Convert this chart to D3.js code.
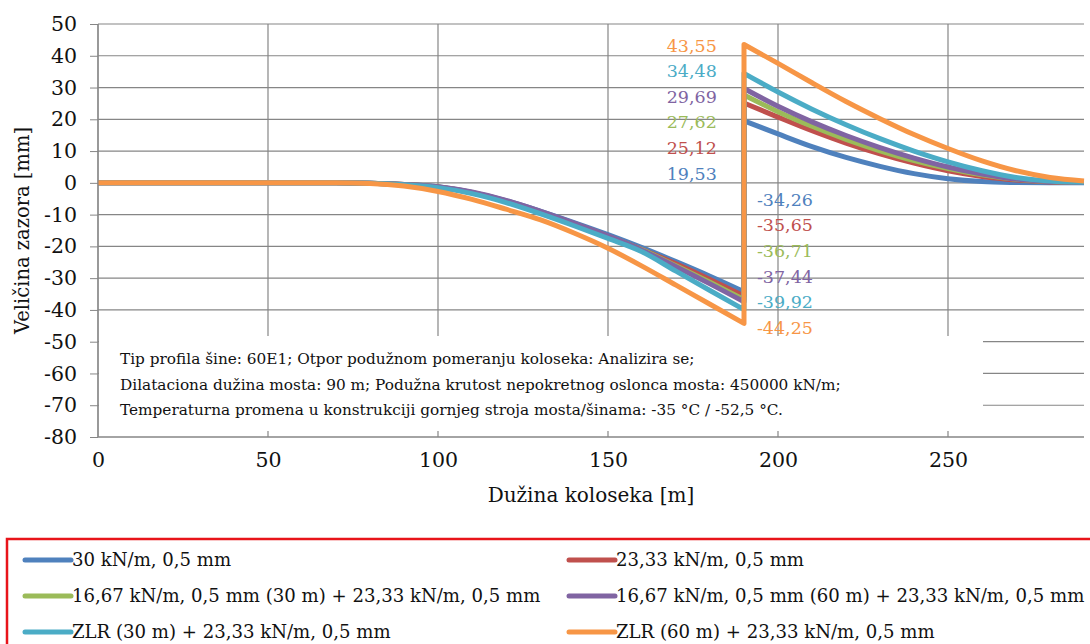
<!DOCTYPE html>
<html>
<head>
<meta charset="utf-8">
<script src="https://cdnjs.cloudflare.com/ajax/libs/d3/7.8.5/d3.min.js"></script>
<style>
  body { margin: 0; background: #fff; }
  svg, svg text { font-family: "DejaVu Serif", serif !important; }
</style>
</head>
<body>
<div id="chart"></div>
<script>
// x positions of the read-off points (m)
const xLeft = [0, 50, 70, 80, 90, 100, 110, 120, 130, 140, 150, 160, 170, 180, 190]
const xRight = [190, 200, 210, 220, 230, 240, 250, 260, 270, 280, 290]

// gap size (mm), left of the bridge end and right of it
const blueLeft = [0, 0, 0, -0.1, -0.5, -1.2, -3.0, -5.6, -8.9, -12.5, -16.3, -20.4, -24.8, -29.4, -34.26]
const redLeft = [0, 0, 0, -0.1, -0.5, -1.3, -3.1, -5.8, -9.2, -12.9, -16.8, -21.0, -25.5, -30.4, -35.65]
const greenLeft = [0, 0, 0, -0.1, -0.5, -1.3, -3.1, -5.8, -9.2, -12.9, -16.8, -21.1, -26.1, -31.3, -36.71]
const purpleLeft = [0, 0, 0, -0.1, -0.5, -1.2, -2.9, -5.5, -8.9, -12.7, -16.7, -21.2, -26.4, -31.8, -37.44]
const aquaLeft = [0, 0, 0, -0.1, -0.6, -1.5, -3.4, -6.2, -9.7, -13.5, -17.5, -21.7, -27.8, -33.9, -39.92]
const orangeLeft = [0, 0, 0, -0.2, -1.0, -2.7, -5.2, -8.3, -11.6, -15.8, -20.6, -26.2, -32.2, -38.2, -44.25]

const blueRight = [19.53, 15.4, 11.4, 8.0, 5.2, 2.9, 1.3, 0.4, 0.1, 0, 0]
const redRight = [25.12, 20.7, 16.4, 12.5, 9.1, 6.2, 3.8, 2.0, 0.9, 0.3, 0.1]
const greenRight = [27.62, 22.4, 17.8, 13.7, 10.1, 7.0, 4.5, 2.5, 1.1, 0.4, 0.1]
const purpleRight = [29.69, 24.1, 19.2, 14.9, 11.1, 7.8, 5.0, 2.8, 1.2, 0.4, 0.1]
const aquaRight = [34.48, 28.6, 23.2, 18.3, 13.9, 10.0, 6.6, 3.8, 1.7, 0.6, 0.2]
const orangeRight = [43.55, 37.6, 31.5, 25.6, 20.2, 15.2, 10.8, 6.9, 3.8, 1.7, 0.6]

const seriesNames = [
    "30 kN/m, 0,5 mm",
    "23,33 kN/m, 0,5 mm",
    "16,67 kN/m, 0,5 mm (30 m) + 23,33 kN/m, 0,5 mm",
    "16,67 kN/m, 0,5 mm (60 m) + 23,33 kN/m, 0,5 mm",
    "ZLR (30 m) + 23,33 kN/m, 0,5 mm",
    "ZLR (60 m) + 23,33 kN/m, 0,5 mm"
]
const seriesColors = ["#4f81bd", "#c0504d", "#9bbb59", "#8064a2", "#4bacc6", "#f79646"]
const leftValues = [blueLeft, redLeft, greenLeft, purpleLeft, aquaLeft, orangeLeft]
const rightValues = [blueRight, redRight, greenRight, purpleRight, aquaRight, orangeRight]

// labels written next to the jump (top-down order as in the picture)
const topLabels = ["43,55", "34,48", "29,69", "27,62", "25,12", "19,53"]
const topLabelSeries = [5, 4, 3, 2, 1, 0]
const bottomLabels = ["-34,26", "-35,65", "-36,71", "-37,44", "-39,92", "-44,25"]
const bottomLabelSeries = [0, 1, 2, 3, 4, 5]

const yTicks = [50, 40, 30, 20, 10, 0, -10, -20, -30, -40, -50, -60, -70, -80]
const xTicks = [0, 50, 100, 150, 200, 250]

const noteLines = [
    "Tip profila šine: 60E1; Otpor podužnom pomeranju koloseka: Analizira se;",
    "Dilataciona dužina mosta: 90 m; Podužna krutost nepokretnog oslonca mosta: 450000 kN/m;",
    "Temperaturna promena u konstrukciji gornjeg stroja mosta/šinama: -35 °C / -52,5 °C."
]

const W = 1090, H = 644
const svg = d3.select("#chart").append("svg").attr("width", W).attr("height", H)

const x = d3.scaleLinear().domain([0, 290]).range([98, 1084])
const y = d3.scaleLinear().domain([-80, 50]).range([437, 24])

// horizontal grid + y ticks
svg.append("g")
    .attr("transform", "translate(98,0)")
    .call(d3.axisLeft(y).tickValues(yTicks).tickSize(8).tickPadding(13).tickFormat(d => d))
    .call(g => g.select(".domain").remove())
    .call(g => g.selectAll("line").attr("stroke", "#868686"))
    .call(g => g.selectAll("text").attr("font-size", 20.5).attr("fill", "#111"))

svg.append("g").selectAll("line").data(yTicks).join("line")
    .attr("x1", x(0)).attr("x2", x(290))
    .attr("y1", d => y(d)).attr("y2", d => y(d))
    .attr("stroke", "#868686").attr("stroke-width", 1.2)

svg.append("g").selectAll("line").data(xTicks).join("line")
    .attr("x1", d => x(d)).attr("x2", d => x(d))
    .attr("y1", y(50)).attr("y2", y(-80))
    .attr("stroke", "#868686").attr("stroke-width", 1.2)

// x tick labels
svg.append("g")
    .attr("transform", "translate(0," + y(-80) + ")")
    .call(d3.axisBottom(x).tickValues(xTicks).tickSize(0).tickPadding(15).tickFormat(d => d))
    .call(g => g.select(".domain").remove())
    .call(g => g.selectAll("text").attr("font-size", 20.5).attr("fill", "#111"))

// lines: left branch, vertical jump at the bridge end, right branch
const curve = d3.line().x(d => x(d[0])).y(d => y(d[1])).curve(d3.curveMonotoneX)

svg.append("g").selectAll("path").data(seriesColors).join("path")
    .attr("fill", "none")
    .attr("stroke", d => d)
    .attr("stroke-width", 5)
    .attr("stroke-linejoin", "round")
    .attr("d", (c, i) => {
        const left = curve(xLeft.map((v, k) => [v, leftValues[i][k]]))
        const right = curve(xRight.map((v, k) => [v, rightValues[i][k]]))
        return left + "L" + right.slice(1)
    })

// value labels
svg.append("g").selectAll("text").data(topLabels).join("text")
    .attr("x", x(182))
    .attr("y", (d, i) => y(43.55) + 1 + i * 25.6)
    .attr("dy", "0.35em")
    .attr("text-anchor", "end")
    .attr("font-size", 17.5)
    .attr("fill", (d, i) => seriesColors[topLabelSeries[i]])
    .text(d => d)

svg.append("g").selectAll("text").data(bottomLabels).join("text")
    .attr("x", x(193.8))
    .attr("y", (d, i) => y(-5.3) + i * 25.6)
    .attr("dy", "0.35em")
    .attr("text-anchor", "start")
    .attr("font-size", 17.5)
    .attr("fill", (d, i) => seriesColors[bottomLabelSeries[i]])
    .text(d => d)

// note box covering the lower grid
svg.append("rect")
    .attr("x", x(0) + 1).attr("y", 336)
    .attr("width", 982 - x(0)).attr("height", 95)
    .attr("fill", "#fff")

svg.append("g").selectAll("text").data(noteLines).join("text")
    .attr("x", 120)
    .attr("y", (d, i) => 359 + i * 25.5)
    .attr("dy", "0.35em")
    .attr("font-size", 15.3)
    .attr("fill", "#111")
    .text(d => d)

// axis lines
svg.append("line").attr("x1", x(0)).attr("x2", x(0)).attr("y1", y(50)).attr("y2", y(-80))
    .attr("stroke", "#868686").attr("stroke-width", 1.2)
svg.append("line").attr("x1", x(0)).attr("x2", x(290)).attr("y1", y(-80)).attr("y2", y(-80))
    .attr("stroke", "#868686").attr("stroke-width", 1.2)

// axis titles, centred on the plot area
svg.append("text")
    .attr("x", (x(0) + x(290)) / 2).attr("y", 495).attr("dy", "0.35em")
    .attr("text-anchor", "middle").attr("font-size", 20).attr("fill", "#111")
    .text("Dužina koloseka [m]")

svg.append("text")
    .attr("transform", "translate(22," + (y(50) + y(-80)) / 2 + ") rotate(-90)")
    .attr("dy", "0.35em")
    .attr("text-anchor", "middle").attr("font-size", 19.5).attr("fill", "#111")
    .text("Veličina zazora [mm]")

// legend
svg.append("rect")
    .attr("x", 7).attr("y", 539).attr("width", 1100).attr("height", 120)
    .attr("fill", "none").attr("stroke", "#e8141a").attr("stroke-width", 2.5)

const legend = svg.append("g").selectAll("g").data(seriesNames).join("g")
    .attr("transform", (d, i) => "translate(" + (i % 2 ? 569 : 25) + "," + (560 + Math.floor(i / 2) * 36) + ")")

legend.append("line")
    .attr("x1", 0).attr("x2", 46).attr("y1", 0).attr("y2", 0)
    .attr("stroke", (d, i) => seriesColors[i]).attr("stroke-width", 5)
    .attr("stroke-linecap", "round")

legend.append("text")
    .attr("x", 47).attr("dy", "0.35em")
    .attr("font-size", 18.1).attr("fill", "#111")
    .text(d => d)
</script>
</body>
</html>
